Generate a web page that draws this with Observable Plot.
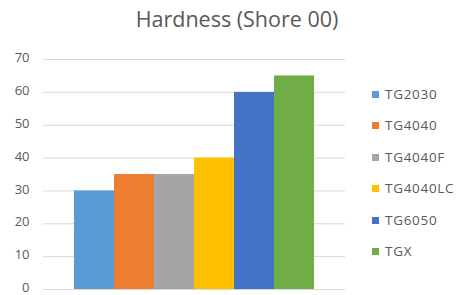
<!DOCTYPE html>
<html>
<head>
<meta charset="utf-8">
<script src="https://cdn.jsdelivr.net/npm/d3@7"></script>
<script src="https://cdn.jsdelivr.net/npm/@observablehq/plot@0.6"></script>
<style>
  body { margin: 0; background: #fff; }
  #wrap { position: relative; width: 457px; height: 295px; font-family: "Open Sans", "Liberation Sans", sans-serif; color: #595959; }
  #title { position: absolute; left: 0; width: 474px; top: 4px; text-align: center; font-size: 21.5px; color: #595959; }
  #legend { position: absolute; left: 372px; top: 85px; font-size: 13.5px; letter-spacing: 0.7px; z-index: 2; }
  .item { height: 31.4px; display: flex; align-items: flex-start; }
  .sw { width: 7px; height: 7px; margin-right: 6px; margin-top: 6px; }
  svg { position: absolute; left: 0; top: 0; overflow: visible; }
</style>
</head>
<body>
<div id="wrap">
  <div id="title">Hardness (Shore 00)</div>
  <div id="legend"></div>
</div>
<script>
const products = ["TG2030", "TG4040", "TG4040F", "TG4040LC", "TG6050", "TGX"];
const hardness = [30, 35, 35, 40, 60, 65];
const colors = ["#5B9BD5", "#ED7D31", "#A5A5A5", "#FFC000", "#4472C4", "#70AD47"];
const yTicks = [0, 10, 20, 30, 40, 50, 60, 70];

const data = products.map((p, i) => ({product: p, value: hardness[i]}));

const chart = Plot.plot({
  width: 457,
  height: 295,
  marginLeft: 43,
  marginRight: 112,
  marginTop: 59,
  marginBottom: 6,
  style: {fontFamily: "Open Sans, Liberation Sans, sans-serif", fontSize: "13px", color: "#595959", background: "transparent", overflow: "visible"},
  x: {domain: products, paddingInner: 0, paddingOuter: 0.775, axis: null},
  y: {domain: [0, 70], ticks: yTicks, label: null},
  color: {domain: products, range: colors},
  marks: [
    Plot.gridY(yTicks, {stroke: "#d9d9d9", strokeOpacity: 1, strokeWidth: 1}),
    Plot.axisY(yTicks, {tickSize: 0, tickPadding: 14, label: null, fill: "#595959", dy: -1.5}),
    Plot.barY(data, {x: "product", y: "value", fill: "product", inset: 0})
  ]
});
document.getElementById("wrap").appendChild(chart);

const legend = document.getElementById("legend");
products.forEach((p, i) => {
  const it = document.createElement("div");
  it.className = "item";
  const sw = document.createElement("div");
  sw.className = "sw";
  sw.style.background = colors[i];
  const t = document.createElement("span");
  t.textContent = p;
  it.appendChild(sw);
  it.appendChild(t);
  legend.appendChild(it);
});
</script>
</body>
</html>
